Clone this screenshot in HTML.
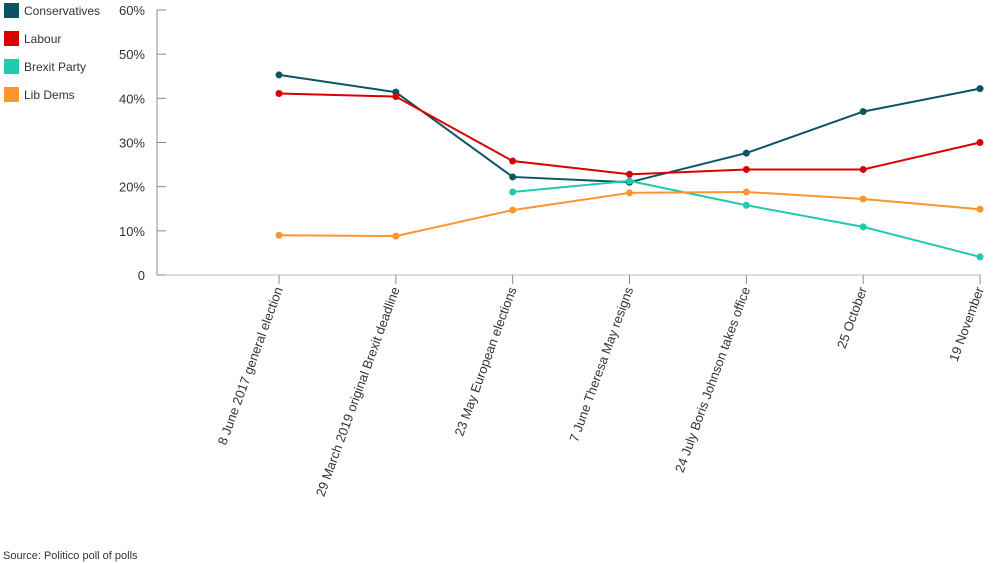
<!DOCTYPE html>
<html><head><meta charset="utf-8"><style>
body{margin:0;background:#fff;font-family:"Liberation Sans",sans-serif}
svg{display:block}
</style></head><body>
<svg id="c" width="1000" height="563" font-family="Liberation Sans, sans-serif">
<g id="legend"></g>
<g id="axes"></g>
<g id="series"></g>
<text x="3" y="559" font-size="11" fill="#333">Source: Politico poll of polls</text>
</svg>
<script>
const categories=["8 June 2017 general election","29 March 2019 original Brexit deadline","23 May European elections","7 June Theresa May resigns","24 July Boris Johnson takes office","25 October","19 November"];
const conservatives=[45.3,41.4,22.2,21.0,27.6,37.0,42.2];
const labour=[41.1,40.4,25.8,22.8,23.9,23.9,30.0];
const brexitParty=[null,null,18.8,21.3,15.8,10.9,4.1];
const libDems=[9.0,8.8,14.7,18.6,18.8,17.2,14.9];
const yTicks=[0,10,20,30,40,50,60];
const seriesNames=["Conservatives","Labour","Brexit Party","Lib Dems"];
const seriesColors=["#0b5563","#d90000","#1fcaae","#fb9530"];
const seriesData=[conservatives,labour,brexitParty,libDems];
const NS="http://www.w3.org/2000/svg";
function mk(t,a,p){const e=document.createElementNS(NS,t);for(const k in a)e.setAttribute(k,a[k]);p.appendChild(e);return e;}
const x0=279,x1=980,yBase=275,yTop=10;
function xs(i){return x0+(x1-x0)*i/(categories.length-1);}
function ys(v){return yBase-(yBase-yTop)*v/60;}
const axes=document.getElementById('axes');
const yl=mk('line',{x1:157,x2:157,y1:yTop,y2:yBase,stroke:'#888','stroke-width':1},axes);


const xl=mk('line',{x1:157,x2:x1,y1:yBase,y2:yBase,stroke:'#bbb','stroke-width':1},axes);


yTicks.forEach(v=>{
 const tk=mk('line',{x1:157,x2:166,y1:ys(v),y2:ys(v),stroke:'#888'},axes);
 
 
 const t=mk('text',{x:145,y:ys(v)+5,'text-anchor':'end','font-size':13,fill:'#333'},axes);
 t.textContent=v===0?'0':v+'%';
 
 
});
categories.forEach((c,i)=>{
 const x=xs(i);
 const tk=mk('line',{x1:x,x2:x,y1:yBase,y2:yBase+9,stroke:'#888'},axes);
 
 
 const t=mk('text',{x:x+4,y:yBase+14,'text-anchor':'end','font-size':13,fill:'#333',transform:`rotate(-70 ${x+4} ${yBase+14})`},axes);
 t.textContent=c;
 
 
});
const sg=document.getElementById('series');
seriesData.forEach((d,s)=>{
 let pts=[];
 d.forEach((v,i)=>{if(v!=null)pts.push([xs(i),ys(v)]);});
 const pl=mk('polyline',{points:pts.map(p=>p.join(',')).join(' '),fill:'none',stroke:seriesColors[s],'stroke-width':2},sg);
 
 
 pts.forEach(p=>{
  const c=mk('circle',{cx:p[0],cy:p[1],r:3.5,fill:seriesColors[s]},sg);
  
  
 });
});
const lg=document.getElementById('legend');
seriesNames.forEach((n,i)=>{
 const r=mk('rect',{x:4,y:3+i*28,width:15,height:15,fill:seriesColors[i]},lg);
 
 
 const t=mk('text',{x:24,y:15+i*28,'font-size':12,fill:'#333'},lg);
 t.textContent=n;
 
 
});
</script>
</body></html>
